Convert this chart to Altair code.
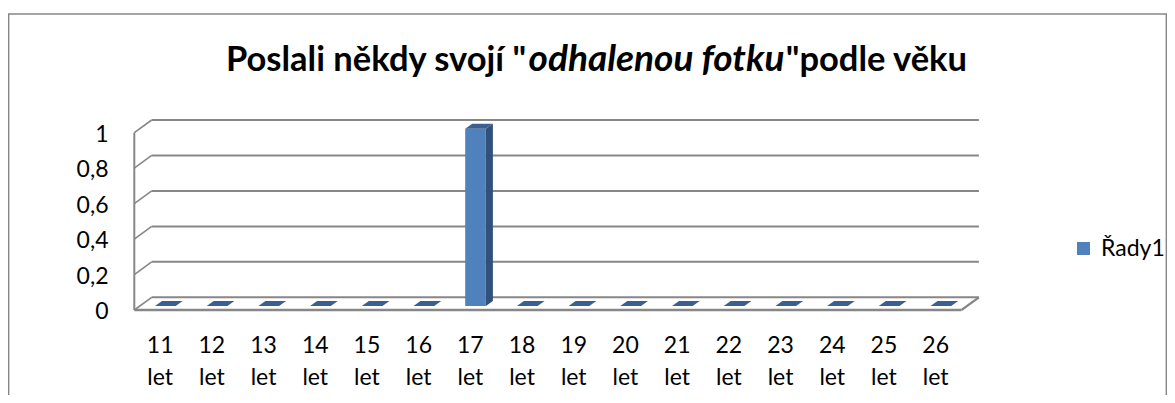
import altair as alt
import pandas as pd

# ---------------- data ----------------
AGES = ["11 let", "12 let", "13 let", "14 let", "15 let", "16 let", "17 let", "18 let",
        "19 let", "20 let", "21 let", "22 let", "23 let", "24 let", "25 let", "26 let"]
VALUES = [0, 0, 0, 0, 0, 0, 1, 0, 0, 0, 0, 0, 0, 0, 0, 0]
SERIES = "Řady1"
Y_TICKS = [0, 0.2, 0.4, 0.6, 0.8, 1]
Y_LABELS = ["0", "0,2", "0,4", "0,6", "0,8", "1"]
TITLE_PARTS = ['Poslali někdy svojí "', "odhalenou fotku", '"podle věku']

# ---------------- layout / style ----------------
W, H = 1159, 387
N = len(AGES)
X_RANGE = [126.3, 953.5]      # front floor edge (pixels in the view)
Y_RANGE = [302.0, 124.7]      # value 0 / value 1 at the front plane
PX = (X_RANGE[1] - X_RANGE[0]) / N
PY = Y_RANGE[0] - Y_RANGE[1]
WALL_DX, WALL_DY = 17.4, 12.7     # depth of the 3-D walls
INSET_DX, INSET_DY = 5.2, 4.0     # bar front face inset into the depth
DEPTH_DX, DEPTH_DY = 7.0, 5.0     # bar depth
BAR_HALF = 0.2                    # half bar width (category units)

GRID = "#878787"
FONT = "Lato"
FRONT = "#4F81BD"
SIDE = "#31507A"
TOP = "#3B5F90"

XS = alt.Scale(domain=[0, N], range=X_RANGE, nice=False, zero=False)
YS = alt.Scale(domain=[0, 1], range=Y_RANGE, nice=False, zero=False)

# ---------------- tables ----------------
grid_df = pd.DataFrame({"v": Y_TICKS, "lab": Y_LABELS})
grid_df["x0"] = 0
grid_df["x1"] = N

frame_df = pd.DataFrame({"x0": [0], "x1": [N], "v0": [0], "v1": [1]})

bars_df = pd.DataFrame({
    "bar": AGES,
    "v": VALUES,
    "l": [i + 0.5 - BAR_HALF for i in range(N)],
    "r": [i + 0.5 + BAR_HALF for i in range(N)],
    "zero": [0] * N,
    "series": [SERIES] * N,
})

ddx, ddy = DEPTH_DX / PX, DEPTH_DY / PY
side_rows, top_rows = [], []
for i, (a, v) in enumerate(zip(AGES, VALUES)):
    L, R = i + 0.5 - BAR_HALF, i + 0.5 + BAR_HALF
    if v > 0:
        side_rows += [dict(bar=a, x=R, top=v, bot=0),
                      dict(bar=a, x=R + ddx, top=v + ddy, bot=ddy)]
    top_rows += [dict(bar=a, x=L, top=v, bot=v),
                 dict(bar=a, x=L + ddx, top=v + ddy, bot=v),
                 dict(bar=a, x=R, top=v + ddy, bot=v),
                 dict(bar=a, x=R + ddx, top=v + ddy, bot=v + ddy)]
side_df = pd.DataFrame(side_rows)
top_df = pd.DataFrame(top_rows)

labels_df = pd.DataFrame({"pos": [i + 0.5 for i in range(N)], "age": AGES})

# ---------------- layers ----------------
border = alt.Chart(pd.DataFrame({"k": [0]})).mark_rect(
    fillOpacity=0, stroke="#868686", strokeWidth=1.4
).encode(x=alt.value(0.7), x2=alt.value(1158.3), y=alt.value(6), y2=alt.value(470))

back_grid = alt.Chart(grid_df).mark_rule(
    color=GRID, strokeWidth=2,
    xOffset=WALL_DX, x2Offset=WALL_DX, yOffset=-WALL_DY, y2Offset=-WALL_DY
).encode(
    x=alt.X("x0:Q", scale=XS, axis=None), x2="x1:Q",
    y=alt.Y("v:Q", scale=YS, axis=None), y2="v:Q",
)

side_wall = alt.Chart(grid_df).mark_rule(
    color=GRID, strokeWidth=1.6, x2Offset=WALL_DX, y2Offset=-WALL_DY
).encode(
    x=alt.X("x0:Q", scale=XS, axis=None), x2="x0:Q",
    y=alt.Y("v:Q", scale=YS, axis=None), y2="v:Q",
)

front_axis = alt.Chart(frame_df).mark_rule(color=GRID, strokeWidth=2).encode(
    x=alt.X("x0:Q", scale=XS, axis=None),
    y=alt.Y("v0:Q", scale=YS, axis=None), y2="v1:Q",
)

floor_front = alt.Chart(frame_df).mark_rule(color=GRID, strokeWidth=2.5).encode(
    x=alt.X("x0:Q", scale=XS, axis=None), x2="x1:Q",
    y=alt.Y("v0:Q", scale=YS, axis=None),
)

floor_side = alt.Chart(frame_df).mark_rule(
    color=GRID, strokeWidth=2.2, x2Offset=WALL_DX, y2Offset=-WALL_DY
).encode(
    x=alt.X("x1:Q", scale=XS, axis=None), x2="x1:Q",
    y=alt.Y("v0:Q", scale=YS, axis=None), y2="v0:Q",
)

bar_side = alt.Chart(side_df).mark_area(
    color=SIDE, orient="vertical", xOffset=INSET_DX, yOffset=-INSET_DY, y2Offset=-INSET_DY
).encode(
    x=alt.X("x:Q", scale=XS, axis=None),
    y=alt.Y("top:Q", scale=YS, axis=None), y2="bot:Q",
    detail="bar:N",
)

bar_front = alt.Chart(bars_df).mark_rect(
    xOffset=INSET_DX, x2Offset=INSET_DX, yOffset=-INSET_DY, y2Offset=-INSET_DY
).encode(
    x=alt.X("l:Q", scale=XS, axis=None), x2="r:Q",
    y=alt.Y("zero:Q", scale=YS, axis=None), y2="v:Q",
    color=alt.Color(
        "series:N",
        scale=alt.Scale(domain=[SERIES], range=[FRONT]),
        legend=alt.Legend(
            orient="none", legendX=1064, legendY=229, title=None,
            symbolType="square", symbolSize=170, symbolStrokeWidth=0,
            labelFont=FONT, labelFontSize=23, labelColor="black",
            labelOffset=6, padding=0,
        ),
    ),
)

bar_top = alt.Chart(top_df).mark_area(
    color=TOP, orient="vertical", xOffset=INSET_DX, yOffset=-INSET_DY, y2Offset=-INSET_DY
).encode(
    x=alt.X("x:Q", scale=XS, axis=None),
    y=alt.Y("top:Q", scale=YS, axis=None), y2="bot:Q",
    detail="bar:N",
)

x_labels = alt.Chart(labels_df).mark_text(
    font=FONT, fontSize=23, lineBreak=" ", lineHeight=31.7,
    baseline="alphabetic", align="center", color="black"
).encode(
    x=alt.X("pos:Q", scale=XS, axis=None), y=alt.value(345.3), text="age:N"
)

y_labels = alt.Chart(grid_df).mark_text(
    font=FONT, fontSize=23, align="right", baseline="middle", dy=2, color="black"
).encode(
    x=alt.value(100.5), y=alt.Y("v:Q", scale=YS, axis=None), text="lab:N"
)

def title_part(txt, x, align, style, size):
    return alt.Chart(pd.DataFrame({"t": [txt]})).mark_text(
        font=FONT, fontSize=size, fontWeight="bold", fontStyle=style,
        align=align, baseline="alphabetic", color="black"
    ).encode(x=alt.value(x), y=alt.value(62.5), text="t:N")

t1 = title_part(TITLE_PARTS[0], 218, "left", "normal", 34.5)
t2 = title_part(TITLE_PARTS[1], 648.5, "center", "italic", 37)
t3 = title_part(TITLE_PARTS[2], 959, "right", "normal", 34.5)

chart = alt.layer(
    border, back_grid, side_wall, front_axis, floor_side, floor_front,
    bar_side, bar_front, bar_top, x_labels, y_labels, t1, t2, t3
).properties(
    width=W, height=H, padding=0, autosize=alt.AutoSizeParams(type="none")
).configure_view(strokeWidth=0)

chart.save("out.html", embed_options={"renderer": "svg", "actions": False})
